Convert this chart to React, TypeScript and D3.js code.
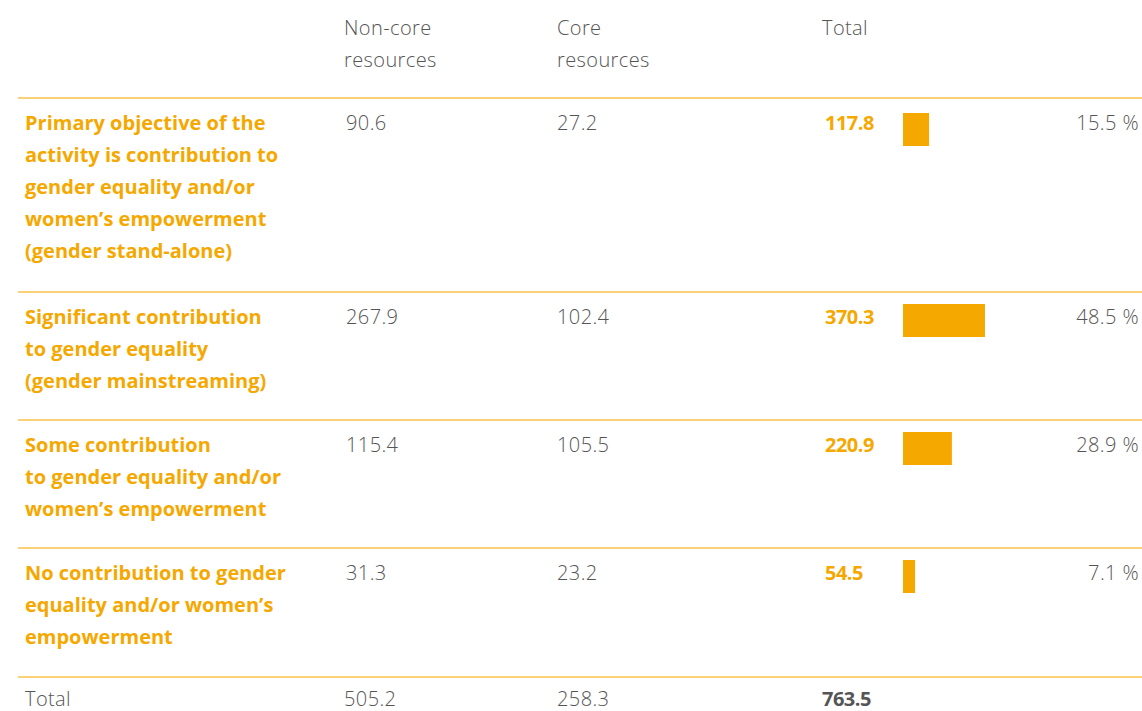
import React, { useEffect, useRef } from 'react';
import * as d3 from 'd3';

// Gender marker breakdown, USD millions
const categories = [
  ['Primary objective of the', 'activity is contribution to', 'gender equality and/or', 'women\u2019s empowerment', '(gender stand-alone)'],
  ['Significant contribution', 'to gender equality', '(gender mainstreaming)'],
  ['Some contribution', 'to gender equality and/or', 'women\u2019s empowerment'],
  ['No contribution to gender', 'equality and/or women\u2019s', 'empowerment'],
];
const nonCore = ['90.6', '267.9', '115.4', '31.3'];
const core = ['27.2', '102.4', '105.5', '23.2'];
const totals = [117.8, 370.3, 220.9, 54.5];
const shares = ['15.5 %', '48.5 %', '28.9 %', '7.1 %'];
const columnHeaders = [['Non-core', 'resources'], ['Core', 'resources'], ['Total']];
const grandTotals = ['505.2', '258.3', '763.5'];

const W = 1142;
const H = 711;
const ORANGE = '#f5a800';
const RULE = '#f7c24a';
const GREY = '#555555';
const FONT = '"Open Sans", Lato, sans-serif';

export default function App() {
  const svgRef = useRef<SVGSVGElement>(null);

  useEffect(() => {
    document.body.style.margin = '0';
    const svg = d3.select(svgRef.current);
    svg.selectAll('*').remove();

    const colX = [344, 557, 822];
    const labelX = 25;
    const lineH = 32;
    const rowTops = [98, 292, 420, 548];
    const totalTop = 677;

    const barScale = d3.scaleLinear().domain([0, 763.5]).range([0, 169]);
    const barX = 903;

    const txt = (x: number, y: number, t: string, weight: number, fill: string, anchor = 'start') =>
      svg.append('text')
        .attr('x', x)
        .attr('y', y)
        .attr('text-anchor', anchor)
        .attr('font-family', FONT)
        .attr('font-size', 20)
        .attr('font-weight', weight)
        .attr('letter-spacing', weight < 500 ? 0.4 : 0)
        .attr('fill', fill)
        .text(t);

    // header
    columnHeaders.forEach((lines, i) => {
      lines.forEach((t, j) => txt(colX[i], 35 + j * lineH, t, 300, GREY));
    });

    // horizontal rules
    [...rowTops, totalTop].forEach(y => {
      svg.append('line')
        .attr('x1', 18)
        .attr('x2', W)
        .attr('y1', y)
        .attr('y2', y)
        .attr('stroke', RULE)
        .attr('stroke-width', 1.5);
    });

    categories.forEach((lines, i) => {
      const top = rowTops[i];
      const base = top + 32;
      lines.forEach((t, j) => txt(labelX, base + j * lineH, t, 700, ORANGE));

      txt(colX[0] + 2, base, nonCore[i], 300, GREY);
      txt(colX[1], base, core[i], 300, GREY);
      txt(colX[2] + 3, base, d3.format('.1f')(totals[i]), 700, ORANGE).attr('letter-spacing', -0.5);

      svg.append('rect')
        .attr('x', barX)
        .attr('y', top + (i === 0 ? 15 : 12))
        .attr('width', barScale(totals[i]))
        .attr('height', 33)
        .attr('fill', ORANGE);

      txt(1139, base, shares[i], 300, GREY, 'end');
    });

    // total row
    txt(labelX, totalTop + 29, 'Total', 300, GREY);
    grandTotals.forEach((v, k) => {
      txt(colX[k], totalTop + 29, v, k === 2 ? 700 : 300, GREY).attr('letter-spacing', k === 2 ? -0.5 : 0.4);
    });
  }, []);

  return <svg ref={svgRef} width={W} height={H} style={{ display: 'block', background: '#fff' }} />;
}
